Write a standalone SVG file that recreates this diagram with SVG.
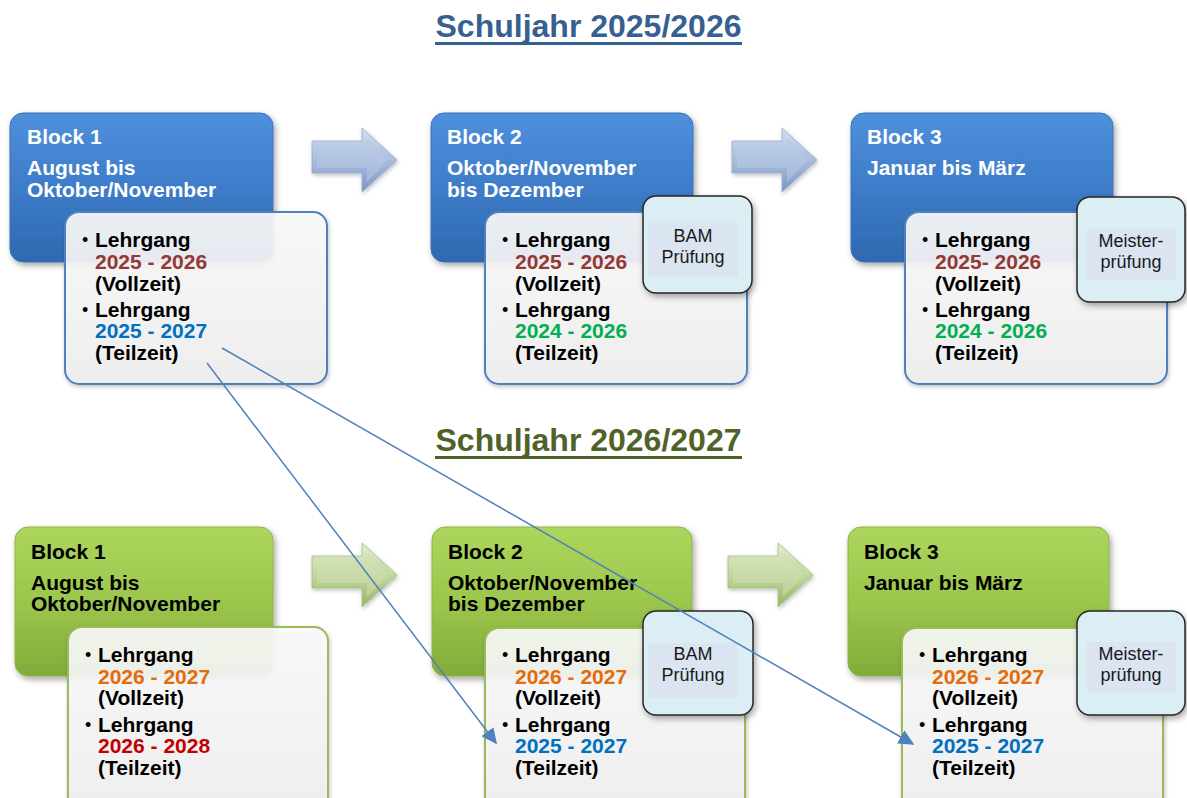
<svg xmlns="http://www.w3.org/2000/svg" width="1187" height="798" viewBox="0 0 1187 798">
<defs>
<linearGradient id="gBlue" x1="0" y1="0" x2="0" y2="1"><stop offset="0" stop-color="#4f90dc"/><stop offset="0.5" stop-color="#3d7cc9"/><stop offset="1" stop-color="#2f68b0"/></linearGradient>
<linearGradient id="gGreen" x1="0" y1="0" x2="0" y2="1"><stop offset="0" stop-color="#acd65c"/><stop offset="0.5" stop-color="#9cc64c"/><stop offset="1" stop-color="#82ab3a"/></linearGradient>
<linearGradient id="gWhite" x1="0" y1="0" x2="0" y2="1"><stop offset="0" stop-color="#fbfbfb"/><stop offset="1" stop-color="#efefef"/></linearGradient>
<linearGradient id="gArrB" x1="0" y1="0" x2="0" y2="1"><stop offset="0" stop-color="#d3ddee"/><stop offset="0.5" stop-color="#a9bddd"/><stop offset="1" stop-color="#7b96c3"/></linearGradient>
<linearGradient id="gArrG" x1="0" y1="0" x2="0" y2="1"><stop offset="0" stop-color="#e2ecd0"/><stop offset="0.5" stop-color="#c2d79e"/><stop offset="1" stop-color="#97b566"/></linearGradient>
<filter id="sh" x="-10%" y="-10%" width="130%" height="130%"><feDropShadow dx="2" dy="3" stdDeviation="3" flood-color="#000" flood-opacity="0.35"/></filter>
<filter id="sh2" x="-10%" y="-10%" width="130%" height="130%"><feDropShadow dx="1" dy="2" stdDeviation="2" flood-color="#000" flood-opacity="0.25"/></filter>
<marker id="ah" viewBox="0 0 10 10" refX="9" refY="5" markerWidth="10.5" markerHeight="10" orient="auto" markerUnits="strokeWidth" preserveAspectRatio="none"><path d="M0,0 L10,5 L0,10 z" fill="#4f81bd"/></marker>
<g id="arrB">
<path d="M0,13 L50,13 L50,0 L85,32 L50,64 L50,45 L0,45 z" fill="url(#gArrB)" stroke="#94aad0" stroke-width="0.8"/>
<path d="M5,18 L55,18 L55,10 L76,32 L55,54 L55,40 L5,40 z" fill="#b8c9e4" opacity="0.55"/>
</g>
<g id="arrG">
<path d="M0,13 L50,13 L50,0 L85,32 L50,64 L50,45 L0,45 z" fill="url(#gArrG)" stroke="#a6bf80" stroke-width="0.8"/>
<path d="M5,18 L55,18 L55,10 L76,32 L55,54 L55,40 L5,40 z" fill="#cfdfb3" opacity="0.55"/>
</g>
</defs>
<style>
text{font-family:"Liberation Sans",Arial,sans-serif;}
.title{font-size:32px;font-weight:bold;text-anchor:middle;}
.bh{font-size:21px;font-weight:bold;}
.bw{fill:#ffffff;}
.bk{fill:#000000;}
.blue{fill:url(#gBlue);stroke:#3a72b8;stroke-width:1;filter:url(#sh);}
.green{fill:url(#gGreen);stroke:#8db34a;stroke-width:1;filter:url(#sh);}
.inB{fill:url(#gWhite);fill-opacity:0.9;stroke:#4f81bd;stroke-width:2;filter:url(#sh2);}
.inG{fill:url(#gWhite);fill-opacity:0.9;stroke:#9bbb59;stroke-width:2;filter:url(#sh2);}
.it{font-size:21px;font-weight:bold;fill:#000;}
.bul{font-size:18px;fill:#000;}
.ex{fill:#dbeef4;stroke:#262626;stroke-width:1.5;filter:url(#sh);}
.exin{fill:#dbe5f1;}
.ext{font-size:18px;fill:#1a1a1a;text-anchor:middle;}
.c1{fill:#953735;}.c2{fill:#0070c0;}.c3{fill:#00b050;}.c4{fill:#e46c0a;}.c5{fill:#c00000;}
.conn{stroke:#4f81bd;stroke-width:1.5;fill:none;marker-end:url(#ah);}
</style>

<g id="title1"><text class="title" x="588.5" y="37" fill="#376092">Schuljahr 2025/2026</text><rect x="435" y="42" width="307" height="3" fill="#376092"/></g>
<g id="title2"><text class="title" x="588.5" y="451" fill="#4f6228">Schuljahr 2026/2027</text><rect x="435" y="456" width="307" height="3" fill="#4f6228"/></g>

<g id="arrows">
<use href="#arrB" x="312" y="128" filter="url(#sh2)"/>
<use href="#arrB" x="732" y="128" filter="url(#sh2)"/>
<use href="#arrG" x="312" y="543" filter="url(#sh2)"/>
<use href="#arrG" x="728" y="543" filter="url(#sh2)"/>
</g>

<g id="t-block1">
<rect class="blue" x="10" y="113" width="263" height="149" rx="13"/>
<text class="bh bw" x="27" y="144">Block 1</text>
<text class="bh bw" x="27" y="175">August bis</text>
<text class="bh bw" x="27" y="197">Oktober/November</text>
<rect class="inB" x="65" y="212" width="262" height="172" rx="14"/>
<text class="bul" x="82" y="246">•</text><text class="it" x="95" y="247">Lehrgang</text>
<text class="it c1" x="95" y="269">2025 - 2026</text>
<text class="it" x="95" y="291">(Vollzeit)</text>
<text class="bul" x="82" y="316">•</text><text class="it" x="95" y="317">Lehrgang</text>
<text class="it c2" x="95" y="338">2025 - 2027</text>
<text class="it" x="95" y="360">(Teilzeit)</text>
</g>

<g id="t-block2">
<rect class="blue" x="431" y="113" width="262" height="149" rx="13"/>
<text class="bh bw" x="447" y="144">Block 2</text>
<text class="bh bw" x="447" y="175">Oktober/November</text>
<text class="bh bw" x="447" y="197">bis Dezember</text>
<rect class="inB" x="485" y="212" width="262" height="172" rx="14"/>
<text class="bul" x="502" y="246">•</text><text class="it" x="515" y="247">Lehrgang</text>
<text class="it c1" x="515" y="269">2025 - 2026</text>
<text class="it" x="515" y="291">(Vollzeit)</text>
<text class="bul" x="502" y="316">•</text><text class="it" x="515" y="317">Lehrgang</text>
<text class="it c3" x="515" y="338">2024 - 2026</text>
<text class="it" x="515" y="360">(Teilzeit)</text>
</g>
<g id="t-bam">
<rect class="ex" x="643" y="196" width="109" height="97" rx="13"/>
<rect class="exin" x="648" y="223" width="90" height="54"/>
<text class="ext" x="693" y="242">BAM</text>
<text class="ext" x="693" y="263">Prüfung</text>
</g>

<g id="t-block3">
<rect class="blue" x="851" y="113" width="262" height="149" rx="13"/>
<text class="bh bw" x="867" y="144">Block 3</text>
<text class="bh bw" x="867" y="175">Januar bis März</text>
<rect class="inB" x="905" y="212" width="262" height="172" rx="14"/>
<text class="bul" x="922" y="246">•</text><text class="it" x="935" y="247">Lehrgang</text>
<text class="it c1" x="935" y="269">2025- 2026</text>
<text class="it" x="935" y="291">(Vollzeit)</text>
<text class="bul" x="922" y="316">•</text><text class="it" x="935" y="317">Lehrgang</text>
<text class="it c3" x="935" y="338">2024 - 2026</text>
<text class="it" x="935" y="360">(Teilzeit)</text>
</g>
<g id="t-meister">
<rect class="ex" x="1077" y="197" width="108" height="105" rx="13"/>
<rect class="exin" x="1087" y="229" width="89" height="51"/>
<text class="ext" x="1131" y="247">Meister-</text>
<text class="ext" x="1131" y="268">prüfung</text>
</g>

<g id="b-block1">
<rect class="green" x="15" y="527" width="258" height="149" rx="13"/>
<text class="bh bk" x="31" y="559">Block 1</text>
<text class="bh bk" x="31" y="590">August bis</text>
<text class="bh bk" x="31" y="611">Oktober/November</text>
<rect class="inG" x="68" y="627" width="260" height="190" rx="14"/>
<text class="bul" x="85" y="661">•</text><text class="it" x="98" y="662">Lehrgang</text>
<text class="it c4" x="98" y="684">2026 - 2027</text>
<text class="it" x="98" y="705">(Vollzeit)</text>
<text class="bul" x="85" y="731">•</text><text class="it" x="98" y="732">Lehrgang</text>
<text class="it c5" x="98" y="753">2026 - 2028</text>
<text class="it" x="98" y="775">(Teilzeit)</text>
</g>

<g id="b-block2">
<rect class="green" x="432" y="527" width="260" height="149" rx="13"/>
<text class="bh bk" x="448" y="559">Block 2</text>
<text class="bh bk" x="448" y="590">Oktober/November</text>
<text class="bh bk" x="448" y="611">bis Dezember</text>
<rect class="inG" x="485" y="628" width="260" height="190" rx="14"/>
<text class="bul" x="502" y="661">•</text><text class="it" x="515" y="662">Lehrgang</text>
<text class="it c4" x="515" y="684">2026 - 2027</text>
<text class="it" x="515" y="705">(Vollzeit)</text>
<text class="bul" x="502" y="731">•</text><text class="it" x="515" y="732">Lehrgang</text>
<text class="it c2" x="515" y="753">2025 - 2027</text>
<text class="it" x="515" y="775">(Teilzeit)</text>
</g>
<g id="b-bam">
<rect class="ex" x="643" y="611" width="110" height="104" rx="13"/>
<rect class="exin" x="648" y="643" width="89" height="55"/>
<text class="ext" x="693" y="660">BAM</text>
<text class="ext" x="693" y="681">Prüfung</text>
</g>

<g id="b-block3">
<rect class="green" x="848" y="527" width="261" height="149" rx="13"/>
<text class="bh bk" x="864" y="559">Block 3</text>
<text class="bh bk" x="864" y="590">Januar bis März</text>
<rect class="inG" x="902" y="628" width="261" height="190" rx="14"/>
<text class="bul" x="919" y="661">•</text><text class="it" x="932" y="662">Lehrgang</text>
<text class="it c4" x="932" y="684">2026 - 2027</text>
<text class="it" x="932" y="705">(Vollzeit)</text>
<text class="bul" x="919" y="731">•</text><text class="it" x="932" y="732">Lehrgang</text>
<text class="it c2" x="932" y="753">2025 - 2027</text>
<text class="it" x="932" y="775">(Teilzeit)</text>
</g>
<g id="b-meister">
<rect class="ex" x="1077" y="611" width="108" height="104" rx="13"/>
<rect class="exin" x="1087" y="642" width="89" height="51"/>
<text class="ext" x="1131" y="660">Meister-</text>
<text class="ext" x="1131" y="681">prüfung</text>
</g>

<g id="connectors">
<line class="conn" x1="207" y1="363" x2="496" y2="743"/>
<line class="conn" x1="222" y1="348" x2="913" y2="744"/>
</g>
</svg>
